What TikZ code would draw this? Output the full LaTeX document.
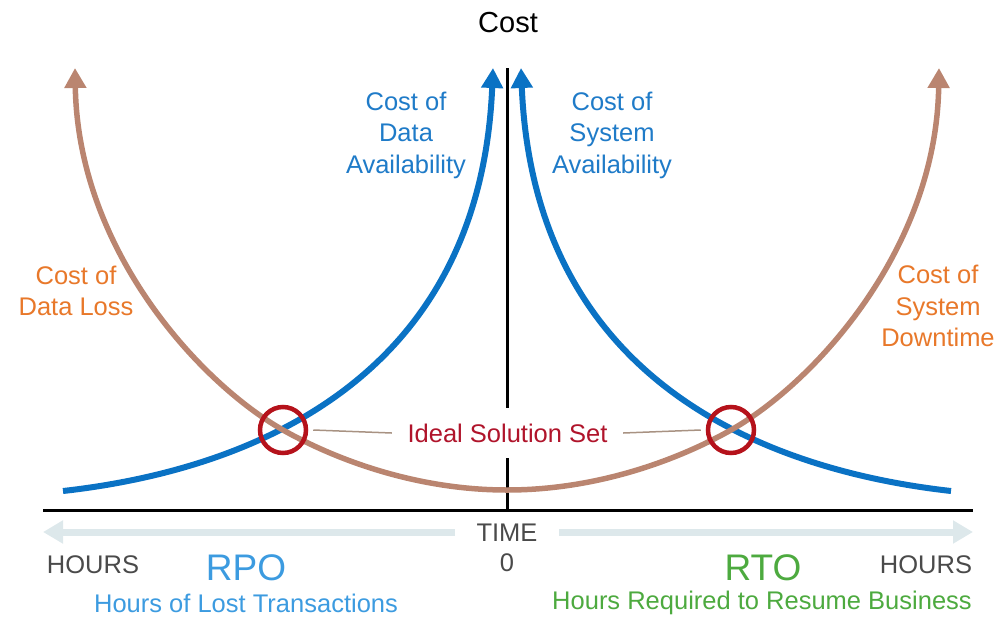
\documentclass[tikz,border=0pt]{standalone}
\usepackage{fontspec}
\setmainfont{Liberation Sans}
\usetikzlibrary{arrows.meta}
\definecolor{cblue}{HTML}{0A72C4}
\definecolor{tblue}{HTML}{1F7BC8}
\definecolor{lblue}{HTML}{3C9BE0}
\definecolor{cbrown}{HTML}{BA8570}
\definecolor{torange}{HTML}{E8782A}
\definecolor{cred}{HTML}{B5121B}
\definecolor{tred}{HTML}{B0142B}
\definecolor{tgreen}{HTML}{4DAA3F}
\definecolor{tgray}{HTML}{4A4A4A}
\definecolor{tarrow}{HTML}{DDE8EB}
\definecolor{conncol}{HTML}{A89282}
\begin{document}
\begin{tikzpicture}[x=1pt,y=-1pt,
  lbl/.style={align=center, inner sep=0pt, font=\fontsize{25.5}{31.5}\selectfont},
  big/.style={inner sep=0pt, font=\fontsize{37}{40}\selectfont},
  bluecurve/.style={draw=cblue, line width=6pt, -{Triangle[width=21pt,length=20pt]}},
  browncurve/.style={draw=cbrown, line width=5.5pt, {Triangle[width=21pt,length=20pt]}-{Triangle[width=21pt,length=20pt]}},
  axisline/.style={draw=black, line width=3pt},
  timearrow/.style={draw=tarrow, line width=7pt, -{Triangle[width=22pt,length=20pt]}},
  ring/.style={circle, draw=cred, line width=4.5pt, minimum size=46pt, inner sep=0pt},
  conn/.style={draw=conncol, line width=1.5pt}]
\useasboundingbox (0,0) rectangle (996,619);

% axes
\coordinate (xl) at (43,510);
\coordinate (xr) at (973,510);
\coordinate (ytop) at (507,68);
\coordinate (orig) at (507,510);
\draw[axisline] (xl) -- (xr);
\draw[axisline] (orig) -- (ytop);

% blue curves
\coordinate (bl0) at (63,491);
\coordinate (bl1) at (493,68);
\coordinate (br0) at (951,491);
\coordinate (br1) at (521,68);
\draw[bluecurve] (bl0) .. controls (250,470) and (480,380) .. (bl1);
\draw[bluecurve] (br0) .. controls (764,470) and (534,380) .. (br1);

% brown curve
\coordinate (wl) at (75,68);
\coordinate (wx1) at (283,430);
\coordinate (wmin) at (507,490);
\coordinate (wx2) at (731,430);
\coordinate (wr) at (939,68);
\draw[browncurve] (wl) .. controls (78,250) and (200,383) .. (wx1)
  .. controls (340,462) and (420,490) .. (wmin)
  .. controls (594,490) and (674,462) .. (wx2)
  .. controls (814,383) and (936,250) .. (wr);

% ideal solution set
\node[ring] (c1) at (283,430) {};
\node[ring] (c2) at (731,430) {};
\node[fill=white, inner sep=0pt, minimum width=231pt, minimum height=50pt, text=tred, font=\fontsize{25.5}{30}\selectfont] (ideal) at (507.5,433) {Ideal Solution Set};
\draw[conn] ([xshift=5pt]c1.east) -- (ideal.west);
\draw[conn] (ideal.east) -- ([xshift=-5pt]c2.west);

% title
\node[inner sep=0pt, font=\fontsize{29}{32}\selectfont] (cost) at (508,23) {Cost};

% curve labels
\node[lbl, text=tblue] (cda) at (406,135) {Cost of\\Data\\Availability};
\node[lbl, text=tblue] (csa) at (612,135) {Cost of\\System\\Availability};
\node[lbl, text=torange] (cdl) at (76,291) {Cost of\\Data Loss};
\node[lbl, text=torange] (csd) at (938,306) {Cost of\\System\\Downtime};

% time axis
\node[lbl, text=tgray] (time) at (507,533) {TIME};
\node[lbl, text=tgray] (zero) at (507,563) {0};
\coordinate (tl0) at (455,532);
\coordinate (tl1) at (43,532);
\coordinate (tr0) at (559,532);
\coordinate (tr1) at (973,532);
\draw[timearrow] (tl0) -- (tl1);
\draw[timearrow] (tr0) -- (tr1);
\node[lbl, text=tgray] (hl) at (93,565) {HOURS};
\node[lbl, text=tgray] (hr) at (926,565) {HOURS};
\node[big, text=lblue] (rpo) at (246,568) {RPO};
\node[big, text=tgreen] (rto) at (763,568) {RTO};
\node[lbl, text=lblue] (rpot) at (246,603) {Hours of Lost Transactions};
\node[lbl, text=tgreen] (rtot) at (762,603) {Hours Required to Resume Business};
\end{tikzpicture}
\end{document}
